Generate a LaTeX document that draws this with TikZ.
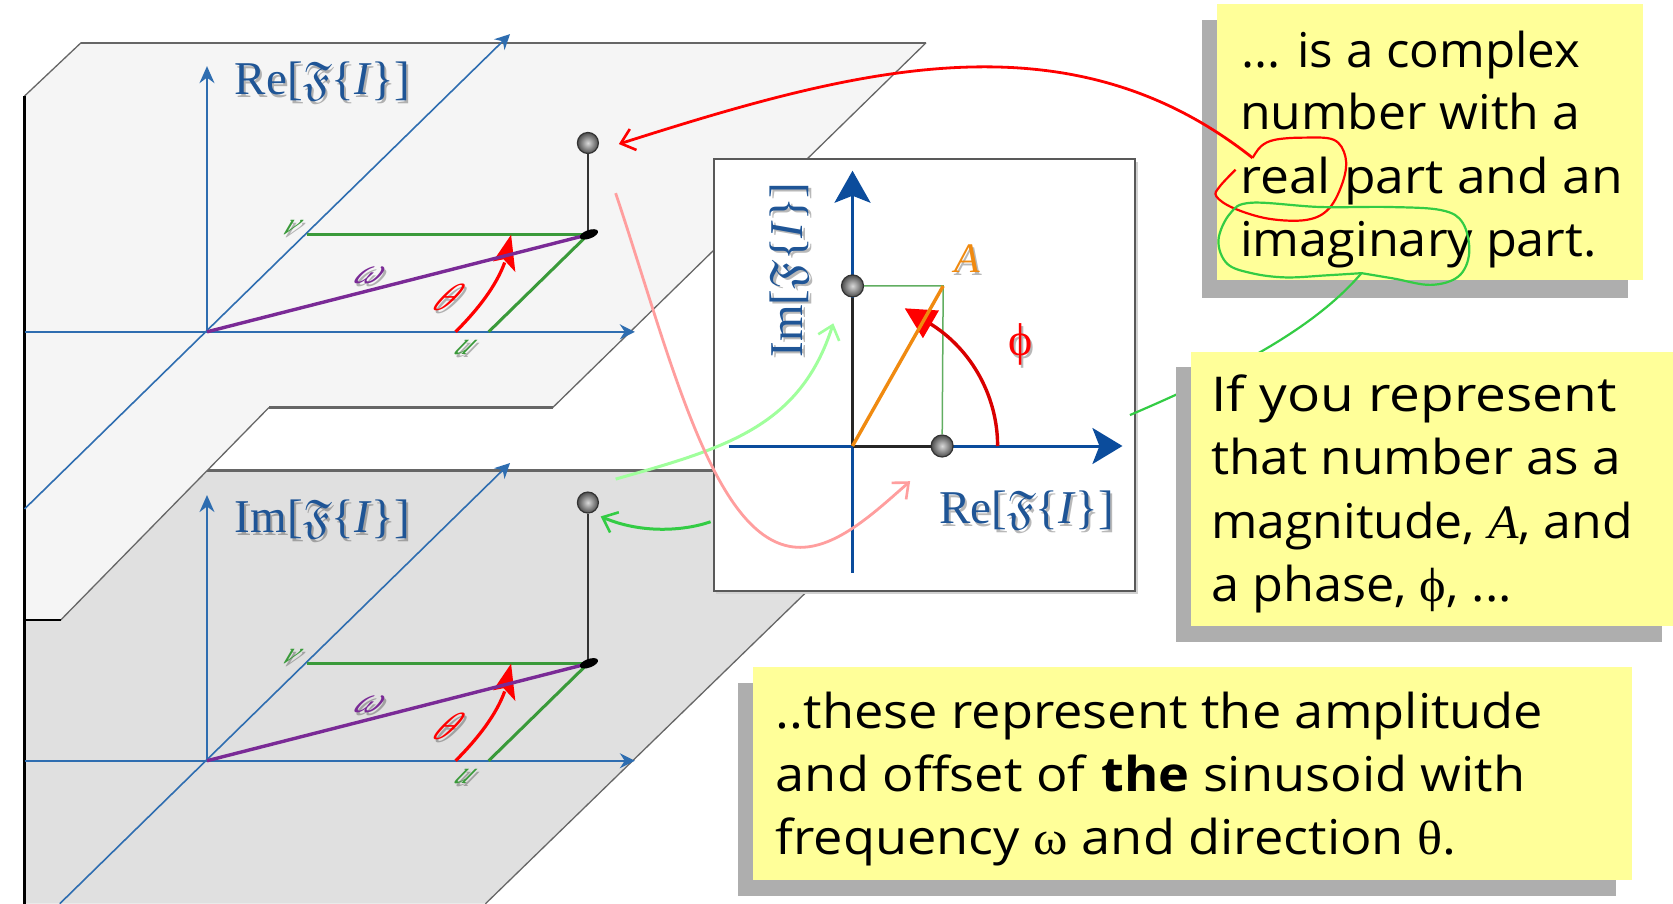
\documentclass[tikz,border=0pt]{standalone}
\usepackage{fontspec}
\setmainfont{Liberation Serif}
\newfontfamily\notefont{Open Sans}
\usetikzlibrary{arrows.meta}
\DeclareFontFamily{U}{eufx}{}
\DeclareFontShape{U}{eufx}{m}{n}{<-> eufm10}{}
\newcommand{\frakF}{{\usefont{U}{eufx}{m}{n}F}}
\definecolor{axisblue}{HTML}{2E6DB0}
\definecolor{deepblue}{HTML}{0B4C9C}
\definecolor{labelblue}{HTML}{1F5596}
\definecolor{planegreen}{HTML}{3A9A3A}
\definecolor{notey}{HTML}{FFFF99}
\definecolor{noteshadow}{HTML}{AEAEAE}
\definecolor{lightgr}{HTML}{A0FF9C}
\definecolor{lightpk}{HTML}{FF9E9E}
\definecolor{midgr}{HTML}{33CC44}
\definecolor{boxorange}{HTML}{F08A10}
\definecolor{freqpurple}{HTML}{7A2A96}
\tikzset{
  x=1.06696pt,y=-1.06696pt,
  thinaxis/.style={draw=axisblue,line width=1.6pt},
  boxaxis/.style={draw=deepblue,line width=3pt},
  planeedge/.style={draw=black!60,line width=1.3pt},
  ball/.style={circle,minimum size=21pt,inner sep=0pt,draw=black!80,line width=1.2pt,shading=radial,inner color=black!15,outer color=black!70},
  txt/.style={anchor=base west,inner sep=0pt,font=\notefont\fontsize{48}{48}\selectfont,transform shape,xscale=#1},
  lab/.style={anchor=base west,inner sep=0pt,font=\fontsize{47}{50}\selectfont},
  slanted/.style={inner sep=0pt,transform shape,xslant=.8,font=\itshape\fontsize{31}{34}\selectfont},
  openred/.style={-{Straight Barb[length=13pt,width=22pt,line width=2.6pt]}},
}
\newcommand{\shadowed}[4][]{% options, name, position, text
  \node[#1,text=black,opacity=.28] at ([xshift=2pt,yshift=-3pt]#3) {#4};
  \node[#1] (#2) at (#3) {#4};
}
% #1 prefix, #2 ball y, #3 lower end of the diagonal
\newcommand{\planefig}[3]{%
  \coordinate (#1o) at (194,311);
  \coordinate (#1foot) at (551,220);
  \node[ball] (#1ball) at (551,#2) {};
  \draw[thinaxis,-{Stealth[length=17pt,width=15pt]}] (#1o) -- (194,62);
  \draw[thinaxis,-{Stealth[length=15pt,width=15pt]}] (23,311) -- (595,311);
  \draw[thinaxis,-{Stealth[length=15pt,width=15pt]}] (#3) -- (478,32);
  \draw[black!80,line width=1.5pt] (#1foot) -- (#1ball);
  \draw[planegreen,line width=3.2pt] (288,220) -- (#1foot);
  \draw[planegreen,line width=3pt] (458,311) -- (#1foot);
  \draw[red,line width=3.2pt] (427,311) .. controls (448,290) and (465,268) .. (473,246);
  \fill[red] (479,220) -- (462,245) -- (472,243) -- (483,255) -- cycle;
  \draw[freqpurple,line width=3.4pt] (#1o) -- (#1foot);
  \fill[black,rotate around={20:(#1foot)}] (552,220) ellipse [x radius=9,y radius=4];
  \shadowed[slanted,text=planegreen]{#1v}{273,213}{v}
  \shadowed[slanted,text=planegreen]{#1u}{436,326}{u}
  \shadowed[slanted,text=freqpurple,font=\itshape\fontsize{36}{38}\selectfont]{#1w}{347,258}{ω}
  \shadowed[slanted,text=red,font=\itshape\fontsize{38}{38}\selectfont]{#1t}{421,279}{θ}
}
\begin{document}
\begin{tikzpicture}
\useasboundingbox[fill=white] (0,0) rectangle (1568,847);
% lower plane
\path[fill=black!12] (23,847) -- (23,441) -- (873,441) -- (455,847) -- cycle;
\draw[planeedge,line width=2.2pt] (23,441) -- (873,441);
\draw[planeedge] (873,441) -- (455,847);
\draw[black,line width=2.8pt] (23,441) -- (23,847);
% upper plane
\path[fill=black!4] (23,581) -- (23,90) -- (76,40) -- (868,40) -- (518,382) -- (252,382) -- (57,581) -- cycle;
\draw[planeedge] (23,90) -- (76,40);
\draw[planeedge,line width=2.2pt] (76,40) -- (868,40);
\draw[planeedge] (868,40) -- (518,382);
\draw[planeedge,line width=2.2pt] (518,382) -- (252,382);
\draw[planeedge] (252,382) -- (57,581);
\draw[black,line width=2.2pt] (57,581) -- (23,581);
\draw[black,line width=2.8pt] (23,90) -- (23,581);
% plane contents
\planefig{a}{134}{23,477}
\begin{scope}[shift={(0,402)}]
\planefig{b}{69}{56,445}
\end{scope}
\shadowed[lab,text=labelblue]{relabel}{220,89}{Re[\frakF\{\textit{I}\}]}
\shadowed[lab,text=labelblue]{imlabel}{220,499}{Im[\frakF\{\textit{I}\}]}
% central box
\fill[black!18] (671,152) rectangle (1067,557);
\node[draw=black!65,line width=1.8pt,fill=white,minimum width=395*1.06696pt,minimum height=405*1.06696pt,inner sep=0pt,anchor=north west] (cbox) at (668,148) {};
\coordinate (co) at (799,418);
\coordinate (cA) at (884,268);
\draw[boxaxis,-{Stealth[length=30pt,width=36pt,inset=7pt]}] (683,418) -- (1052,418);
\draw[boxaxis,-{Stealth[length=32pt,width=36pt,inset=7pt]}] (799,537) -- (799,160);
\node[ball,minimum size=22pt] (cy) at (799,268) {};
\node[ball,minimum size=22pt] (cx) at (883,418) {};
\draw[black!85,line width=3pt] (co) -- (cy);
\draw[black!85,line width=3pt] (co) -- (cx);
\draw[planegreen!80,line width=1.5pt] (cy) -- (cA) -- (cx);
\draw[red!85!black,line width=3.4pt] (935,418) .. controls (935,369) and (908,323) .. (866,300);
\fill[red] (848,289) -- (880,291) -- (865,317) -- cycle;
\draw[boxorange,line width=3.4pt] (co) -- (cA);
\shadowed[lab,text=boxorange,font=\itshape\fontsize{42}{44}\selectfont]{alab}{894,255}{A}
\shadowed[lab,text=red,font=\fontsize{46}{48}\selectfont]{phil}{945,333}{ϕ}
\shadowed[lab,text=labelblue]{rebox}{880,491}{Re[\frakF\{\textit{I}\}]}
\node[lab,text=black,opacity=.28,rotate=90] at ([xshift=3pt,yshift=-2pt]752,335) {Im[\frakF\{\textit{I}\}]};
\node[lab,text=labelblue,rotate=90] (imbox) at (752,335) {Im[\frakF\{\textit{I}\}]};
% note 1
\fill[noteshadow] (1127,19) rectangle (1526,279);
\fill[notey] (1141,4) rectangle (1540,262);
\node[txt=1.025] (n1a) at (1163,63) {... is a complex};
\node[txt=1.04] (n1b) at (1162,121) {number with a};
\node[txt=1.075] (n1c) at (1162,181) {real part and an};
\node[txt=1.05] (n1d) at (1162,240) {imaginary part.};
% hand-drawn loops
\coordinate (redloop) at (1174,148);
\coordinate (greenloop) at (1276,256);
\draw[red,line width=2.2pt] plot[smooth,tension=.6] coordinates {(1174,148) (1182,137) (1195,131) (1221,129) (1250,131) (1261,147) (1259,169) (1246,195) (1225,206) (1189,205) (1156,195) (1140,184) (1143,175) (1158,159)};
\draw[midgr,line width=2.2pt] plot[smooth,tension=.6] coordinates {(1276,256) (1306,261) (1341,267) (1367,259) (1377,237) (1371,209) (1351,197) (1302,194) (1237,194) (1173,190) (1153,200) (1142,225) (1150,247) (1173,256) (1205,260) (1244,258) (1276,256)};
% connector from the green loop, passing behind note 2
\coordinate (gend) at (1059,389);
\draw[midgr,line width=2.2pt] (greenloop) .. controls (1230,310) and (1150,350) .. (gend);
% note 2
\fill[noteshadow] (1102,344) rectangle (1558,602);
\fill[notey] (1116,330) rectangle (1568,587);
\node[txt=1.145] (n2a) at (1135,386) {If you represent};
\node[txt=1.07] (n2b) at (1135,445) {that number as a};
\node[txt=1.04] (n2c) at (1135,505) {magnitude, \textit{\rmfamily A}, and};
\node[txt=1.05] (n2d) at (1135,564) {a phase, {\rmfamily ϕ}, ...};
% note 3
\fill[noteshadow] (692,640) rectangle (1515,840);
\fill[notey] (706,625) rectangle (1530,825);
\node[txt=1.09] (n3a) at (727,683) {..these represent the amplitude};
\node[txt=1.09] (n3b) at (727,742) {and offset of \textbf{the} sinusoid with};
\node[txt=1.09] (n3c) at (727,801) {frequency {\rmfamily ω} and direction {\rmfamily θ}.};
% coloured connectors
\coordinate (redtip) at (580,135);
\draw[red,line width=2.8pt,openred] (redloop) .. controls (1000,10) and (800,65) .. (redtip);
\coordinate (gstart) at (666,489);
\coordinate (gtip) at (563,484);
\draw[midgr,line width=3pt,openred] (gstart) .. controls (640,498) and (600,500) .. (gtip);
\coordinate (lgs) at (577,449);
\coordinate (lgt) at (781,303);
\draw[lightgr,line width=3pt,openred] (lgs) .. controls (680,420) and (750,400) .. (lgt);
\coordinate (pks) at (577,181);
\coordinate (pkm) at (750,513);
\coordinate (pkt) at (853,451);
\draw[lightpk,line width=2.8pt,openred] (pks) .. controls (630,340) and (670,513) .. (pkm) .. controls (785,513) and (820,480) .. (pkt);
\end{tikzpicture}
\end{document}
